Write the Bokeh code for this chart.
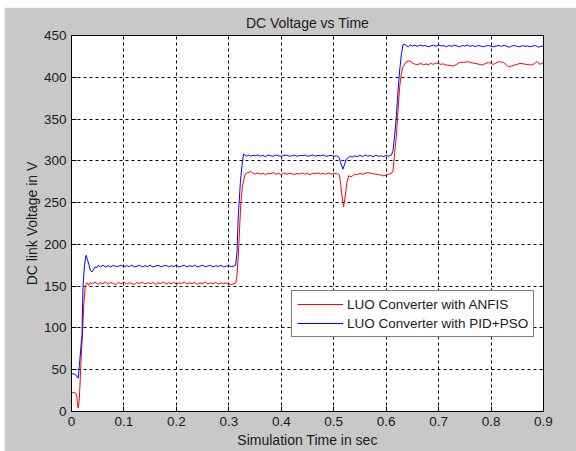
from bokeh.plotting import figure
from bokeh.models import Range1d, FixedTicker, Legend, LegendItem
from bokeh.embed import file_html
from bokeh.resources import INLINE

# ---------------- data ----------------
x_ticks = [0, 0.1, 0.2, 0.3, 0.4, 0.5, 0.6, 0.7, 0.8, 0.9]
x_tick_labels = ["0", "0.1", "0.2", "0.3", "0.4", "0.5", "0.6", "0.7", "0.8", "0.9"]
y_ticks = [0, 50, 100, 150, 200, 250, 300, 350, 400, 450]

t_pid = [0.000, 0.005, 0.008, 0.011, 0.013, 0.015, 0.017, 0.019, 0.020, 0.022, 0.024, 0.025, 0.027, 0.028,
         0.030, 0.033, 0.036, 0.039, 0.042, 0.045, 0.048, 0.051, 0.055, 0.060, 0.065, 0.070, 0.075, 0.080,
         0.085, 0.090, 0.095, 0.100, 0.105, 0.110, 0.115, 0.120, 0.125, 0.130, 0.135, 0.140, 0.145, 0.150,
         0.155, 0.160, 0.165, 0.170, 0.175, 0.180, 0.185, 0.190, 0.195, 0.200, 0.205, 0.210, 0.215, 0.220,
         0.225, 0.230, 0.235, 0.240, 0.245, 0.250, 0.255, 0.260, 0.265, 0.270, 0.275, 0.280, 0.285, 0.290,
         0.295, 0.300, 0.305, 0.310, 0.313, 0.3155, 0.318, 0.322, 0.325, 0.328, 0.331, 0.334, 0.338, 0.342,
         0.346, 0.350, 0.355, 0.360, 0.365, 0.370, 0.375, 0.380, 0.385, 0.390, 0.395, 0.400, 0.405, 0.410,
         0.415, 0.420, 0.425, 0.430, 0.435, 0.440, 0.445, 0.450, 0.455, 0.460, 0.465, 0.470, 0.475, 0.480,
         0.485, 0.490, 0.495, 0.500, 0.505, 0.509, 0.511, 0.514, 0.5175, 0.5207, 0.524, 0.528, 0.532, 0.536,
         0.540, 0.545, 0.550, 0.555, 0.560, 0.565, 0.570, 0.575, 0.580, 0.585, 0.590, 0.595, 0.600, 0.605,
         0.610, 0.613, 0.6165, 0.6195, 0.6228, 0.626, 0.629, 0.632, 0.6355, 0.639, 0.642, 0.646, 0.650,
         0.655, 0.660, 0.665, 0.670, 0.675, 0.680, 0.685, 0.690, 0.695, 0.700, 0.705, 0.710, 0.715, 0.720,
         0.725, 0.730, 0.735, 0.740, 0.745, 0.750, 0.755, 0.760, 0.765, 0.770, 0.775, 0.780, 0.785, 0.790,
         0.795, 0.800, 0.805, 0.810, 0.815, 0.820, 0.825, 0.830, 0.835, 0.840, 0.845, 0.850, 0.855, 0.860,
         0.865, 0.870, 0.875, 0.880, 0.885, 0.890, 0.895, 0.900]
v_pid = [45, 45, 44, 41, 40, 55, 70, 85, 92, 150, 168, 176, 185, 187,
         183, 176, 169, 167, 170, 173, 172, 175, 173, 175, 173, 174.5, 173, 175,
         173.5, 174, 175, 173, 174.5, 173.5, 175, 173, 174, 175, 173, 174.5, 173.5, 175,
         173, 174, 175, 173.5, 174, 175, 173, 174.5, 173.5, 175, 173, 174, 175, 173,
         174.5, 173.5, 175, 173, 174, 175, 173.5, 174, 175, 173, 174.5, 173.5, 175, 173,
         174, 174.5, 173.5, 174, 175, 190, 234, 274, 294, 308, 307, 305.5, 307, 305.5,
         306.5, 306, 307, 305.5, 306.5, 305, 307, 306, 305.5, 307, 306, 305.5, 306.5, 307,
         305.5, 306, 307, 305.5, 306.5, 306, 307, 305.5, 306, 307, 305.5, 306.5, 306, 307,
         305.5, 306, 306.5, 305.5, 306, 305, 303, 296, 290, 296, 302, 304, 305.5, 304.5,
         306, 305, 306.5, 305, 307, 305.5, 306.5, 305, 306.5, 305.5, 306, 305, 306.5, 305.5,
         307, 312, 332, 354, 386, 410, 427, 439, 439.5, 437.5, 436.5, 438.5, 437.5,
         438.5, 437, 438.5, 437.5, 438, 436.5, 437.5, 438.5, 437, 438.5, 437.5, 438, 436.5, 438,
         437, 438.5, 437.5, 436.5, 438, 437.5, 438.5, 437, 438, 436.5, 438, 437.5, 436.5, 437.5,
         438, 437, 436.5, 437.5, 438, 437, 438.5, 437, 436, 437.5, 438, 437, 436.5, 438,
         437, 437.5, 436.5, 437.5, 438, 436, 437, 437.5]

t_anfis = [0.000, 0.004, 0.008, 0.010, 0.012, 0.013, 0.0145, 0.016, 0.0185, 0.021, 0.0235, 0.026, 0.028,
           0.030, 0.033, 0.036, 0.040, 0.045, 0.050, 0.055, 0.060, 0.065, 0.070, 0.075, 0.080, 0.085,
           0.090, 0.095, 0.100, 0.105, 0.110, 0.115, 0.120, 0.125, 0.130, 0.135, 0.140, 0.145, 0.150,
           0.155, 0.160, 0.165, 0.170, 0.175, 0.180, 0.185, 0.190, 0.195, 0.200, 0.205, 0.210, 0.215,
           0.220, 0.225, 0.230, 0.235, 0.240, 0.245, 0.250, 0.255, 0.260, 0.265, 0.270, 0.275, 0.280,
           0.285, 0.290, 0.295, 0.300, 0.305, 0.310, 0.313, 0.3155, 0.318, 0.3207, 0.323, 0.326, 0.331,
           0.336, 0.342, 0.349, 0.355, 0.360, 0.365, 0.370, 0.375, 0.380, 0.385, 0.390, 0.395, 0.400,
           0.405, 0.410, 0.415, 0.420, 0.425, 0.430, 0.435, 0.440, 0.445, 0.450, 0.455, 0.460, 0.465,
           0.470, 0.475, 0.480, 0.485, 0.490, 0.495, 0.500, 0.505, 0.509, 0.511, 0.513, 0.5157, 0.5188,
           0.522, 0.5252, 0.5284, 0.5335, 0.540, 0.545, 0.550, 0.555, 0.560, 0.565, 0.570, 0.575, 0.580,
           0.585, 0.590, 0.595, 0.600, 0.605, 0.610, 0.613, 0.6163, 0.6195, 0.6228, 0.626, 0.629, 0.632,
           0.6386, 0.645, 0.6514, 0.656, 0.661, 0.666, 0.671, 0.676, 0.680, 0.685, 0.690, 0.695, 0.699,
           0.704, 0.709, 0.714, 0.718, 0.723, 0.728, 0.733, 0.7405, 0.748, 0.7566, 0.762, 0.769, 0.775,
           0.782, 0.788, 0.7948, 0.800, 0.8044, 0.809, 0.814, 0.8235, 0.828, 0.833, 0.839, 0.8457, 0.850,
           0.8553, 0.862, 0.868, 0.873, 0.8776, 0.883, 0.8872, 0.8935, 0.900]
v_anfis = [22, 23, 22, 18, 6, 4, 12, 29, 66, 93, 129, 148, 152,
           154, 151, 154.5, 152.5, 155, 152, 154, 153, 155, 152.5, 154.5, 153, 152,
           154.5, 153, 155, 152.5, 154, 153, 152, 154.5, 153, 155, 152.5, 154, 153,
           154.5, 152, 154, 153, 155, 152.5, 154, 153, 154.5, 152.5, 154, 153, 155,
           152.5, 154, 153, 154.5, 152, 154, 153, 155, 152.5, 154, 153, 154.5, 152.5,
           154, 153, 154, 152.5, 152, 153, 154, 162, 186, 222, 250, 270, 284,
           286, 287, 284, 285.5, 284, 285, 283.5, 285, 284.5, 286, 284, 285, 283.5,
           285.5, 284, 285, 284.5, 283.5, 285, 284, 285.5, 284, 285, 283.5, 285, 284.5,
           285.5, 284, 285, 284, 285.5, 284, 285, 284.5, 284, 283, 274, 258, 245,
           258, 274, 282, 281, 284, 283.5, 285, 284, 285, 286, 285, 284.5, 284,
           283.5, 283, 282, 283, 284, 285, 288, 310, 330, 362, 390, 404.6, 412.7,
           418.7, 419.5, 416.6, 415.5, 415.4, 416.5, 415, 416, 415, 416.5, 415.5, 417, 416.6,
           415.5, 416, 414.7, 414.5, 414, 413.5, 415, 417.8, 418, 418.6, 417.5, 416.6, 416,
           414.7, 416, 417.8, 416.5, 415.4, 417, 418.7, 417.8, 415.5, 412.6, 413.5, 414.7, 415.5,
           416.6, 416, 415.4, 415, 414.7, 416.5, 418.7, 415.4, 417.8]

title_text = "DC Voltage vs Time"
x_label = "Simulation Time in sec"
y_label = "DC link Voltage in V"
name_anfis = "LUO Converter with ANFIS"
name_pid = "LUO Converter with PID+PSO"

# ---------------- figure ----------------
FONT = "Liberation Sans"
FS = "13.5px"
FS_LAB = "14px"
TXT = "#1a1a1a"
BG = "#c8c8c8"

p = figure(width=572, height=444, output_backend="svg", toolbar_location=None,
           x_range=Range1d(0, 0.9), y_range=Range1d(0, 450),
           min_border_left=67, min_border_right=33, min_border_top=27, min_border_bottom=40)
p.margin = (7, 0, 0, 4)
p.border_fill_color = BG
p.background_fill_color = "white"
p.outline_line_color = "black"
p.outline_line_width = 1

p.title.text = title_text
p.title.text_font = FONT
p.title.text_font_size = FS_LAB
p.title.text_font_style = "normal"
p.title.text_color = TXT
p.title.align = "center"

xa = p.xaxis[0]
ya = p.yaxis[0]
xa.ticker = FixedTicker(ticks=x_ticks)
xa.major_label_overrides = {tk: lab for tk, lab in zip(x_ticks, x_tick_labels)}
ya.ticker = FixedTicker(ticks=y_ticks)

for ax in (xa, ya):
    ax.axis_line_color = None
    ax.major_tick_in = 5
    ax.major_tick_out = 0
    ax.major_tick_line_color = "black"
    ax.minor_tick_line_color = None
    ax.major_label_text_font = FONT
    ax.major_label_text_font_size = FS
    ax.major_label_text_color = TXT
    ax.axis_label_text_font = FONT
    ax.axis_label_text_font_size = FS_LAB
    ax.axis_label_text_font_style = "normal"
    ax.axis_label_text_color = TXT

xa.axis_label = x_label
xa.major_label_standoff = 5
xa.axis_label_standoff = 3
ya.axis_label = y_label
ya.major_label_standoff = 5
ya.axis_label_standoff = 1

p.xgrid.ticker = FixedTicker(ticks=x_ticks)
p.ygrid.ticker = FixedTicker(ticks=y_ticks)
for g in (p.xgrid[0], p.ygrid[0]):
    g.grid_line_color = "black"
    g.grid_line_dash = "3 3"
    g.grid_line_width = 1
    g.grid_line_alpha = 1

r_anfis = p.line(t_anfis, v_anfis, line_color="#ff0000", line_width=1)
r_pid = p.line(t_pid, v_pid, line_color="#0000ff", line_width=1)

legend = Legend(items=[LegendItem(label=name_anfis, renderers=[r_anfis]),
                       LegendItem(label=name_pid, renderers=[r_pid])],
                location=(220, 74), margin=0, padding=5, spacing=3,
                glyph_width=46, glyph_height=16, label_height=16, label_standoff=4,
                border_line_color="black", border_line_width=1,
                background_fill_color="white", background_fill_alpha=1,
                label_text_font=FONT, label_text_font_size=FS, label_text_color=TXT)
p.add_layout(legend, "center")

open("out.html", "w").write(file_html(p, INLINE))
